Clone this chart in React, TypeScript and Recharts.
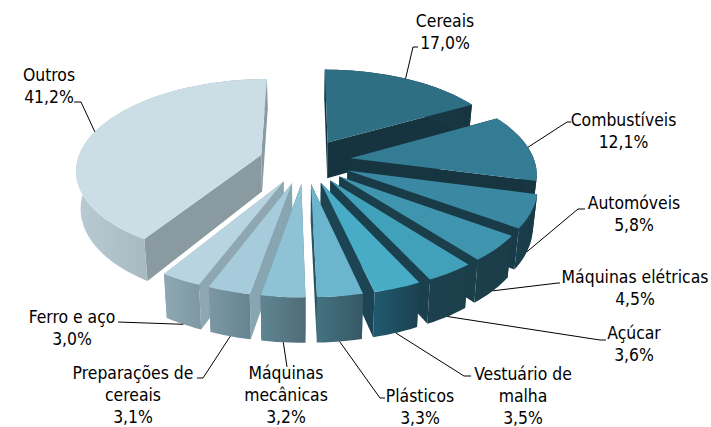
import { Pie, PieChart } from "recharts";

// clockwise from the top, same order as the source table
const categories = [
	"Cereais",
	"Combustíveis",
	"Automóveis",
	"Máquinas elétricas",
	"Açúcar",
	"Vestuário de malha",
	"Plásticos",
	"Máquinas mecânicas",
	"Preparações de cereais",
	"Ferro e aço",
	"Outros",
];
const shares = [17.0, 12.1, 5.8, 4.5, 3.6, 3.5, 3.3, 3.2, 3.1, 3.0, 41.2];

const topColors = [
	"#2e6f84", "#337c93", "#3a88a2", "#3f94ae", "#41a0ba", "#48acc6",
	"#6cb5ce", "#8fc2d5", "#a6ccdc", "#b8d4e0", "#cbdee6",
];
const sideColors = [
	"#16343f", "#173540", "#193a47", "#1b3e4b", "#1b404d", "#1c4452",
	"#2c5563", "#4f7380", "#88a6b2", "#8fa7b1", "#8a9aa1",
];
const arcLeftColors = [
	"#1a3f4c", "#1a3f4c", "#1a3f4c", "#1c3f4b", "#1c404d", "#205a70",
	"#457280", "#5f8592", "#7b98a4", "#8fa9b4", "#b9cbd3",
];
const arcRightColors = [
	"#163540", "#163540", "#183a46", "#1b3c48", "#1c3f4c", "#1c4150",
	"#365866", "#4f6c78", "#668390", "#7e98a3", "#8b9aa1",
];

// label layout: text centre x, first baseline, wrapped lines, leader bend points
const labelLayout: Record<string, { x: number; y: number; lines: string[]; bend: number[][] }> = {
	Cereais: { x: 445, y: 27, lines: ["Cereais"], bend: [[413, 47], [418, 47]] },
	"Combustíveis": { x: 623.5, y: 126, lines: ["Combustíveis"], bend: [[567, 122], [571, 122]] },
	"Automóveis": { x: 634, y: 209, lines: ["Automóveis"], bend: [[578, 209], [585, 209]] },
	"Máquinas elétricas": { x: 635, y: 283, lines: ["Máquinas elétricas"], bend: [[558, 283], [560, 283]] },
	"Açúcar": { x: 634, y: 339, lines: ["Açúcar"], bend: [[600, 340], [606, 340]] },
	"Vestuário de malha": { x: 523, y: 380, lines: ["Vestuário de", "malha"], bend: [[464, 376], [471, 376]] },
	"Plásticos": { x: 420, y: 402, lines: ["Plásticos"], bend: [[380, 398], [385, 398]] },
	"Máquinas mecânicas": { x: 286, y: 379, lines: ["Máquinas", "mecânicas"], bend: [[287, 367]] },
	"Preparações de cereais": { x: 133, y: 379, lines: ["Preparações de", "cereais"], bend: [[203, 378], [197, 378]] },
	"Ferro e aço": { x: 72, y: 323, lines: ["Ferro e aço"], bend: [[118, 322]] },
	Outros: { x: 49, y: 81, lines: ["Outros"], bend: [[81, 102], [74, 102]] },
};

const LINE_HEIGHT = 22;
const EXPLODE = 0.25;
const TILT = 0.4826;
const PERSPECTIVE = 0.149;
const DEPTH = 37;
const FONT = "'DejaVu Sans Condensed', 'DejaVu Sans', sans-serif";

const totalShare = shares.reduce((a, b) => a + b, 0);
const rows = categories.map((name, i) => ({ name, value: shares[i], slot: i }));
const rightRows = rows.slice(0, 7);
const leftRows = rows.slice(7).reverse();
const spanOf = (list: { value: number }[]) =>
	(list.reduce((a, r) => a + r.value, 0) / totalShare) * 360;

const rad = (deg: number) => (deg * Math.PI) / 180;

// ground plane -> screen, the far side gets squeezed a bit
function project(cx: number, cy: number, radius: number, gx: number, gy: number) {
	const d = 1 + PERSPECTIVE * gy;
	const x = cx + (radius * gx) / d;
	const y = cy - (radius * TILT * gy) / d;
	const drop = DEPTH / d;
	return {
		x,
		y,
		bx: cx + (x - cx) * 0.98,
		by: y + drop,
	};
}

function rim(cx: number, cy: number, radius: number, theta: number, mid: number) {
	const gx = Math.sin(rad(theta)) + EXPLODE * Math.sin(rad(mid));
	const gy = Math.cos(rad(theta)) + EXPLODE * Math.cos(rad(mid));
	return project(cx, cy, radius, gx, gy);
}

function apex(cx: number, cy: number, radius: number, mid: number) {
	return project(cx, cy, radius, EXPLODE * Math.sin(rad(mid)), EXPLODE * Math.cos(rad(mid)));
}

const pts = (list: number[][]) => list.map((p) => `${p[0].toFixed(1)},${p[1].toFixed(1)}`).join(" ");

function Wedge(props: any) {
	const { cx, cy, outerRadius, startAngle, endAngle, payload } = props;
	const slot = payload?.slot ?? props.slot;
	const t1 = 90 - startAngle;
	const t2 = 90 - endAngle;
	const mid = (t1 + t2) / 2;
	const steps = Math.max(6, Math.ceil(Math.abs(t2 - t1) / 2));
	const arc = Array.from({ length: steps + 1 }, (_, i) =>
		rim(cx, cy, outerRadius, t1 + ((t2 - t1) * i) / steps, mid),
	);
	const a = apex(cx, cy, outerRadius, mid);
	const first = arc[0];
	const last = arc[steps];
	const gradId = `arc-${slot}`;
	const walls = [
		[[a.x, a.y], [first.x, first.y], [first.bx, first.by], [a.bx, a.by]],
		[[a.x, a.y], [last.x, last.y], [last.bx, last.by], [a.bx, a.by]],
	].sort((p, q) => p[1][1] - q[1][1]);
	return (
		<g>
			<defs>
				<linearGradient id={gradId} x1="0" x2="1" y1="0" y2="0">
					<stop offset="0%" stopColor={arcLeftColors[slot]} />
					<stop offset="100%" stopColor={arcRightColors[slot]} />
				</linearGradient>
			</defs>
			{walls.map((w, i) => (
				<polygon fill={sideColors[slot]} key={i} points={pts(w)} />
			))}
			<polygon
				fill={`url(#${gradId})`}
				points={pts([
					...arc.map((p) => [p.x, p.y]),
					...arc.slice().reverse().map((p) => [p.bx, p.by]),
				])}
			/>
			<polygon
				fill={topColors[slot]}
				points={pts([[a.x, a.y], ...arc.map((p) => [p.x, p.y])])}
			/>
		</g>
	);
}

function Callout(props: any) {
	const { cx, cy, outerRadius, startAngle, endAngle, payload } = props;
	const row = payload ?? props;
	const layout = labelLayout[row.name];
	const mid = (90 - startAngle + 90 - endAngle) / 2;
	const edge = rim(cx, cy, outerRadius, mid, mid);
	// leader touches the top rim on the far half, the wall's foot on the near half
	const from = Math.cos(rad(mid)) > -0.2 ? [edge.x, edge.y] : [edge.bx, edge.by];
	const texts = [...layout.lines, `${row.value.toFixed(1).replace(".", ",")}%`];
	return (
		<g>
			<polyline fill="none" points={pts([from, ...layout.bend])} stroke="#000" strokeWidth={1} />
			<text fill="#000" fontFamily={FONT} fontSize={17.4} textAnchor="middle">
				{texts.map((t, i) => (
					<tspan key={i} x={layout.x} y={layout.y + i * LINE_HEIGHT}>
						{t}
					</tspan>
				))}
			</text>
		</g>
	);
}

export default function App() {
	const common = {
		cx: 305,
		cy: 161,
		outerRadius: 184,
		innerRadius: 0,
		dataKey: "value",
		nameKey: "name",
		isAnimationActive: false,
		labelLine: false,
		label: Callout,
		shape: Wedge,
		stroke: "none",
	};
	return (
		<div style={{ position: "absolute", left: 0, top: 0, width: 711, height: 427, background: "#fff" }}>
			<PieChart height={427} margin={{ top: 0, right: 0, bottom: 0, left: 0 }} width={711}>
				<Pie {...common} data={leftRows} endAngle={90 + spanOf(leftRows)} startAngle={90} />
				<Pie {...common} data={rightRows} endAngle={90 - spanOf(rightRows)} startAngle={90} />
			</PieChart>
		</div>
	);
}
